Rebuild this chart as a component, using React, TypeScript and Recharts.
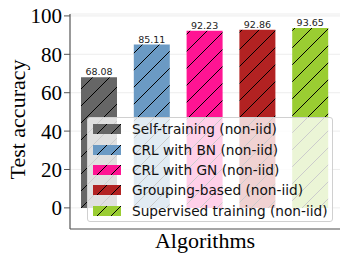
import React from "react"
import { BarChart, Bar, XAxis, YAxis, CartesianGrid, Cell, LabelList } from "recharts"

const algorithms = [
  "Self-training (non-iid)",
  "CRL with BN (non-iid)",
  "CRL with GN (non-iid)",
  "Grouping-based (non-iid)",
  "Supervised training (non-iid)",
]
const accuracy = [68.08, 85.11, 92.23, 92.86, 93.65]
const barColors = ["#666666", "#6b9ac4", "#ff1493", "#b22222", "#9acd32"]
const yTicks = [0, 20, 40, 60, 80, 100]

const data = algorithms.map((name, i) => ({ name, value: accuracy[i] }))

const serif = "'Liberation Serif', 'DejaVu Serif', serif"
const sans = "'DejaVu Sans', sans-serif"

function Hatch({ id, color, size = 17 }: { id: string; color: string; size?: number }) {
  return (
    <pattern id={id} patternUnits="userSpaceOnUse" width={size} height={size}>
      <rect width={size} height={size} fill={color} />
      <path
        d={`M0,${size} L${size},0 M${-size / 4},${size / 4} L${size / 4},${-size / 4} M${size * 0.75},${size * 1.25} L${size * 1.25},${size * 0.75}`}
        stroke="#000"
        strokeWidth={1}
      />
    </pattern>
  )
}

function YLabel(props: any) {
  const vb = props.viewBox || { x: 0, y: 0, width: 0, height: 0 }
  const x = vb.x + 25
  const y = vb.y + vb.height / 2 - 2
  return (
    <text x={x} y={y} transform={`rotate(-90 ${x} ${y})`} textAnchor="middle" fontFamily={serif} fontSize={22} fill="#000">
      Test accuracy
    </text>
  )
}

function XLabel(props: any) {
  const vb = props.viewBox || { x: 0, y: 0, width: 0, height: 0 }
  return (
    <text x={vb.x + vb.width / 2} y={vb.y + 19} textAnchor="middle" fontFamily={serif} fontSize={22} fill="#000">
      Algorithms
    </text>
  )
}

export default function App() {
  return (
    <div style={{ position: "absolute", left: 0, top: 0, width: 349, height: 262, background: "#fff" }}>
      <BarChart width={349} height={262} data={data} margin={{ top: 14, right: 9, bottom: 0, left: 0 }}>
        <defs>
          {barColors.map((c, i) => (
            <Hatch key={i} id={`hatch${i}`} color={c} />
          ))}
        </defs>
        <CartesianGrid vertical={false} stroke="#e8e8e8" strokeWidth={0.8} />
        <XAxis
          dataKey="name"
          tick={false}
          tickLine={false}
          height={33}
          padding={{ left: 3, right: 3 }}
          axisLine={{ stroke: "#555", strokeWidth: 1.2 }}
          label={<XLabel />}
        />
        <XAxis
          xAxisId="top"
          orientation="top"
          dataKey="name"
          tick={false}
          tickLine={false}
          height={0}
          axisLine={{ stroke: "#555", strokeWidth: 1.2 }}
        />
        <YAxis
          domain={[-11, 101]}
          ticks={yTicks}
          width={70}
          tick={{ fontFamily: serif, fontSize: 21, fill: "#000" }}
          tickLine={{ stroke: "#555" }}
          axisLine={{ stroke: "#555", strokeWidth: 1.2 }}
          label={<YLabel />}
        />
        <YAxis
          yAxisId="right"
          orientation="right"
          domain={[-11, 101]}
          width={0}
          tick={false}
          tickLine={false}
          axisLine={{ stroke: "#555", strokeWidth: 1.2 }}
        />
        <Bar dataKey="value" barSize={36} isAnimationActive={false}>
          {data.map((_, i) => (
            <Cell key={i} fill={`url(#hatch${i})`} />
          ))}
          <LabelList
            dataKey="value"
            position="top"
            offset={2}
            formatter={(v: any) => Number(v).toFixed(2)}
            style={{ fontFamily: sans, fontSize: 9.5, fill: "#222" }}
          />
        </Bar>
      </BarChart>
      <div
        style={{
          position: "absolute",
          left: 87,
          top: 117,
          width: 246,
          height: 105,
          boxSizing: "border-box",
          padding: "1px 0 0 5px",
          background: "rgba(255,255,255,0.8)",
          border: "1px solid #d0d0d0",
          borderRadius: 3,
          fontFamily: sans,
          fontSize: 13.7,
          color: "#111",
        }}
      >
        {algorithms.map((name, i) => (
          <div key={name} style={{ display: "flex", alignItems: "center", height: 20.4 }}>
            <svg width={28} height={10} style={{ marginRight: 11, flexShrink: 0 }}>
              <defs>
                <Hatch id={`lg${i}`} color={barColors[i]} size={14} />
              </defs>
              <rect width={28} height={10} fill={`url(#lg${i})`} />
            </svg>
            <span style={{ whiteSpace: "nowrap" }}>{name}</span>
          </div>
        ))}
      </div>
    </div>
  )
}
